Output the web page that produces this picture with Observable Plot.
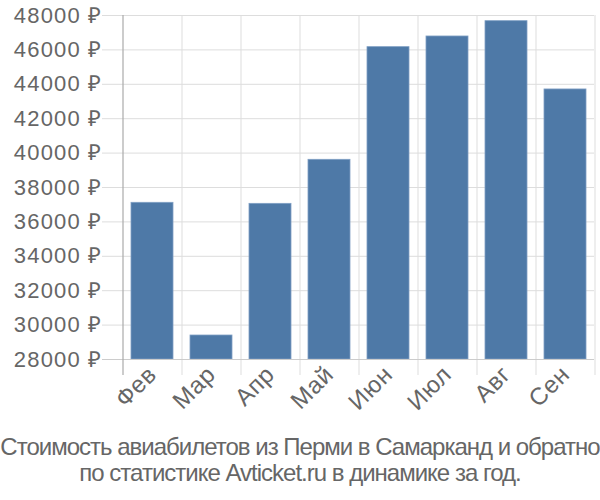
<!DOCTYPE html>
<html>
<head>
<meta charset="utf-8">
<script src="https://cdn.jsdelivr.net/npm/d3@7"></script>
<script src="https://cdn.jsdelivr.net/npm/@observablehq/plot@0.6"></script>
<style>
  html, body { margin: 0; padding: 0; background: #fff; }
  #chart { width: 600px; height: 422px; }
  #chart svg { display: block; }
  .caption { font-family: "Liberation Sans", Arial, sans-serif; font-size: 24px; letter-spacing: -1px; color: #666; text-align: center; line-height: 26px; margin-top: 12px; white-space: nowrap; }
  .yax text { letter-spacing: 1.2px; }
  .xax text { letter-spacing: 0.6px; }
</style>
</head>
<body>
<div id="chart"></div>
<div class="caption">Стоимость авиабилетов из Перми в Самарканд и обратно<br>по статистике Avticket.ru в динамике за год.</div>
<script>
const months = ["Фев", "Мар", "Апр", "Май", "Июн", "Июл", "Авг", "Сен"];
const prices = [37110, 29395, 37050, 39610, 46160, 46780, 47670, 43700];
const yTicks = [28000, 30000, 32000, 34000, 36000, 38000, 40000, 42000, 44000, 46000, 48000];

const data = months.map((m, i) => ({month: m, price: prices[i]}));

const W = 600, H = 422, mL = 122, mR = 6, mT = 15, mB = 63;
const pIn = 0.29, pOut = 0.145;
const step = (W - mL - mR) / (months.length - pIn + 2 * pOut);

const chart = Plot.plot({
  width: W,
  height: H,
  marginLeft: mL,
  marginRight: mR,
  marginTop: mT,
  marginBottom: mB,
  style: {fontFamily: "'Liberation Sans', Arial, sans-serif", fontSize: "21px", color: "#666", background: "#fff"},
  x: {domain: months, paddingInner: pIn, paddingOuter: pOut, label: null},
  y: {domain: [28000, 48000], label: null},
  marks: [
    Plot.ruleY(yTicks, {y: d => d, stroke: "#ddd", strokeWidth: 1, insetLeft: -20}),
    Plot.ruleX(months.slice(1), {x: d => d, dx: -step / 2, stroke: "#ddd", insetBottom: -16}),
    Plot.ruleX(months.slice(-1), {x: d => d, dx: step / 2, stroke: "#ddd", insetBottom: -16}),
    Plot.barY(data, {x: "month", y1: 28000, y2: "price", fill: "#4e79a7", stroke: "#7f9fc4", strokeWidth: 0.8}),
    Plot.ruleY([28000], {stroke: "#ccc", insetLeft: -20}),
    Plot.ruleX(months.slice(0, 1), {x: d => d, dx: -step / 2, stroke: "#aaa", strokeWidth: 1.2, insetBottom: -16}),
    Plot.axisY({ticks: yTicks, tickSize: 0, tickPadding: 20, tickFormat: d => d + " ₽", fill: "#666", fontSize: 22, className: "yax"}),
    Plot.axisX({tickSize: 0, tickPadding: 11, tickRotate: -45, fill: "#666", fontSize: 24, className: "xax"})
  ]
});
document.getElementById("chart").appendChild(chart);
</script>
</body>
</html>
